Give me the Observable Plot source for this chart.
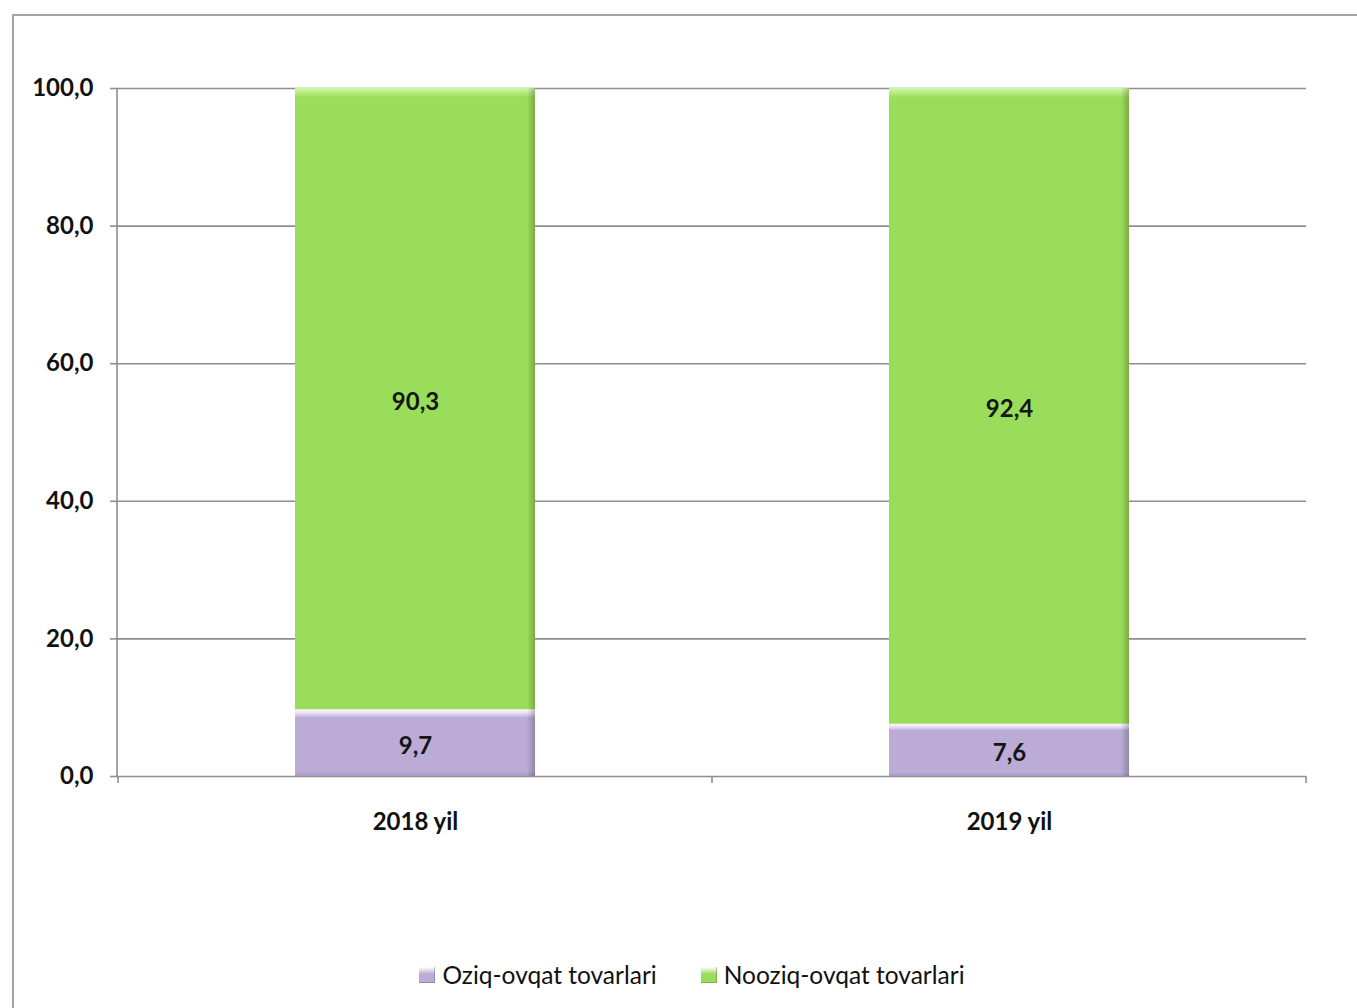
<!DOCTYPE html>
<html><head><meta charset="utf-8">
<script src="https://cdn.jsdelivr.net/npm/d3@7"></script>
<script src="https://cdn.jsdelivr.net/npm/@observablehq/plot@0.6"></script>
<style>
body{margin:0;background:#fff;width:1357px;height:1008px;overflow:hidden;position:relative;font-family:Lato,sans-serif}
#frame{position:absolute;left:12px;top:14px;width:1400px;height:1100px;border:2px solid #a3a3a3;box-sizing:border-box}
#chart{position:absolute;left:0;top:0}
#legend{position:absolute;top:960px;left:0;width:1384px;display:flex;justify-content:center;gap:44px;font-size:24.5px;color:#111;font-family:Lato,sans-serif}
#legend .item{display:flex;align-items:center;gap:7px}
#legend .sw{width:16px;height:16px;display:inline-block}
</style></head>
<body>
<div id="frame"></div>
<div id="chart"></div>
<div id="legend"></div>
<script>
const years = ["2018 yil", "2019 yil"];
const series = ["Oziq-ovqat tovarlari", "Nooziq-ovqat tovarlari"];
const oziq = [9.7, 7.6];
const nooziq = [90.3, 92.4];
const yTicks = [0, 20, 40, 60, 80, 100];
const colors = ["#BBABD5", "#9ADD5A"];

const rows = [];
years.forEach((yr, i) => {
  rows.push({year: yr, series: series[0], value: oziq[i]});
  rows.push({year: yr, series: series[1], value: nooziq[i]});
});
const fmt = d => d.toFixed(1).replace(".", ",");

const chart = Plot.plot({
  width: 1357, height: 850,
  marginLeft: 117, marginRight: 51, marginTop: 88, marginBottom: 74,
  style: {fontFamily: "Lato, sans-serif", fontSize: "24px", fontWeight: 700, color: "#111", background: "transparent"},
  x: {domain: years, paddingInner: 0.596, paddingOuter: 0.298, axis: null},
  y: {domain: [0, 100], axis: null},
  color: {domain: series, range: ["url(#gP)", "url(#gG)"]},
  marks: [
    Plot.ruleY(yTicks, {stroke: "#8e8e8e", strokeWidth: 1.6}),
    Plot.axisY({ticks: yTicks, tickFormat: fmt, tickSize: 7, tickPadding: 17, label: null, stroke: "#8e8e8e", strokeWidth: 1.6, fontSize: 24}),
    Plot.barY(rows, {x: "year", y: "value", fill: "series", order: series}),
    Plot.barY(rows, {x: "year", y: "value", z: "series", fill: "url(#gShade)", order: series}),
    Plot.text(rows, Plot.stackY({x: "year", y: "value", z: "series", order: series, text: d => fmt(d.value), fill: "#151515", fontSize: 24, fontWeight: 700, dy: 3})),
    Plot.axisX({domain: years, tickSize: 0, tickPadding: 36, label: null, fontSize: 24, fontWeight: 700})
  ]
});
document.getElementById("chart").appendChild(chart);

// gradients for bevel look
const svg = d3.select(chart);
const defs = svg.insert("defs", ":first-child");
function grad(id, stops, horiz) {
  const g = defs.append("linearGradient").attr("id", id)
    .attr("x1", 0).attr("y1", 0).attr("x2", horiz ? 1 : 0).attr("y2", horiz ? 0 : 1);
  stops.forEach(([o, c, a]) => g.append("stop").attr("offset", o).attr("stop-color", c).attr("stop-opacity", a ?? 1));
}
grad("gG", [[0, "#d2f7a6"], [0.005, "#bff08c"], [0.012, "#a6e36a"], [0.015, colors[1]], [1, colors[1]]]);
grad("gP", [[0, "#faf6fe"], [0.05, "#ece4f6"], [0.11, "#c8badf"], [0.13, colors[0]], [0.93, colors[0]], [1, "#a898c4"]]);
grad("gShade", [[0, "#000", 0], [0.965, "#000", 0], [0.985, "#000", 0.12], [1, "#000", 0.22]], true);

// axis lines: left vertical, bottom boundary ticks between categories
const xs = chart.scale("x"), ys = chart.scale("y");
const y0 = ys.apply(0), y100 = ys.apply(100);
const left = xs.range[0];
const g = svg.append("g").attr("stroke", "#8e8e8e").attr("stroke-width", 1.6);
g.append("line").attr("x1", left).attr("x2", left).attr("y1", y100).attr("y2", y0);
const off = (xs.step - xs.bandwidth) / 2;
const bounds = years.map(yv => xs.apply(yv) - off).concat([xs.apply(years[years.length - 1]) + xs.bandwidth + off]);
bounds.forEach(b => g.append("line").attr("x1", b).attr("x2", b).attr("y1", y0).attr("y2", y0 + 7));

// legend
const leg = document.getElementById("legend");
series.forEach((s, i) => {
  const it = document.createElement("div"); it.className = "item";
  const sw = document.createElement("span"); sw.className = "sw";
  sw.style.background = `linear-gradient(180deg, #fff 0%, ${colors[i]} 45%, ${colors[i]} 100%)`;
  sw.style.boxShadow = "inset -1px -1px 0 rgba(0,0,0,0.2)";
  const t = document.createElement("span"); t.textContent = s;
  it.appendChild(sw); it.appendChild(t); leg.appendChild(it);
});
</script>
</body></html>
